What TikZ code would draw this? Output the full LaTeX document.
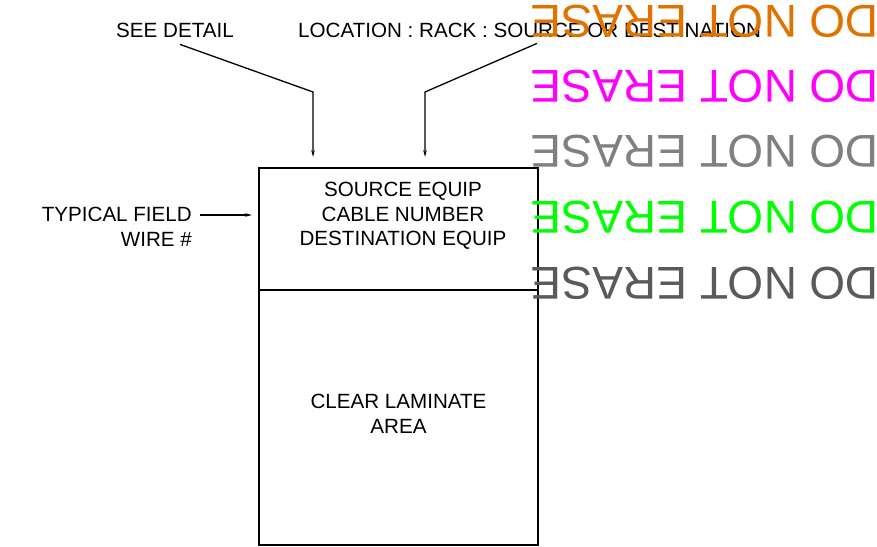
\documentclass[tikz,border=0pt]{standalone}
\usepackage{fontspec}
\setmainfont{Liberation Sans}
\usetikzlibrary{arrows.meta}
\usetikzlibrary{positioning}
\definecolor{eraseorange}{RGB}{224,115,0}
\definecolor{erasemagenta}{RGB}{255,0,255}
\definecolor{erasegray}{RGB}{128,128,128}
\definecolor{erasegreen}{RGB}{0,255,0}
\definecolor{erasedark}{RGB}{90,90,90}
\tikzset{lbl/.style = {inner sep = 0, font = \fontsize{20.6}{24.5}\selectfont}}
\tikzset{leader/.style = {line width = 1.3pt, -{Stealth[length=7pt, width=3.5pt]}}}
\tikzset{boxline/.style = {line width = 2pt}}
\tikzset{erase/.style = {inner sep = 0, rotate = 180, font = \fontsize{46}{46}\selectfont}}

\begin{document}
\begin{tikzpicture}[x=1pt, y=-1pt]
    \useasboundingbox (0, 0) rectangle (877, 546);

    \node [lbl, anchor=base] (seedetail) at (175, 37) {SEE DETAIL};
    \node [lbl, anchor=base west] (location) at (298, 37) {LOCATION : RACK : SOURCE OR DESTINATION};
    \node [lbl, align=right, anchor=east] (fieldwire) at (192, 227) {TYPICAL FIELD\\WIRE \#};

    \node [boxline, draw, minimum width=279pt, minimum height=377pt, inner sep=0] (labelbox) at (398.5, 356.5) {};
    \coordinate (divl) at ([yshift=-123pt]labelbox.north west);
    \coordinate (divr) at ([yshift=-123pt]labelbox.north east);
    \draw [boxline] (divl) -- (divr);

    \node [lbl, align=center] (equipinfo) at (403, 216) {SOURCE EQUIP\\CABLE NUMBER\\DESTINATION EQUIP};
    \node [lbl, align=center] (laminate) at (398.5, 414) {CLEAR LAMINATE\\AREA};

    % leaders
    \coordinate (detailbend) at (313, 92);
    \coordinate (detailtip) at (313, 157);
    \coordinate (locbend) at (425, 92);
    \coordinate (loctip) at (425, 157);
    \coordinate (fieldtip) at (252, 215);
    \draw [leader] ([shift={(5pt,-7pt)}]seedetail.south) -- (detailbend) -- (detailtip);
    \draw [leader] ([shift={(239pt,-6pt)}]location.south west) -- (locbend) -- (loctip);
    \draw [leader] ([xshift=8pt]fieldwire.north east |- fieldtip) -- (fieldtip);

    % upside-down stamps
    \node [erase, eraseorange] (erase1) at (705, 21) {DO NOT ERASE};
    \node [erase, erasemagenta] (erase2) at (705, 86) {DO NOT ERASE};
    \node [erase, erasegray] (erase3) at (705, 151.5) {DO NOT ERASE};
    \node [erase, erasegreen] (erase4) at (705, 217) {DO NOT ERASE};
    \node [erase, erasedark] (erase5) at (705, 283.5) {DO NOT ERASE};
  \end{tikzpicture}
\end{document}
